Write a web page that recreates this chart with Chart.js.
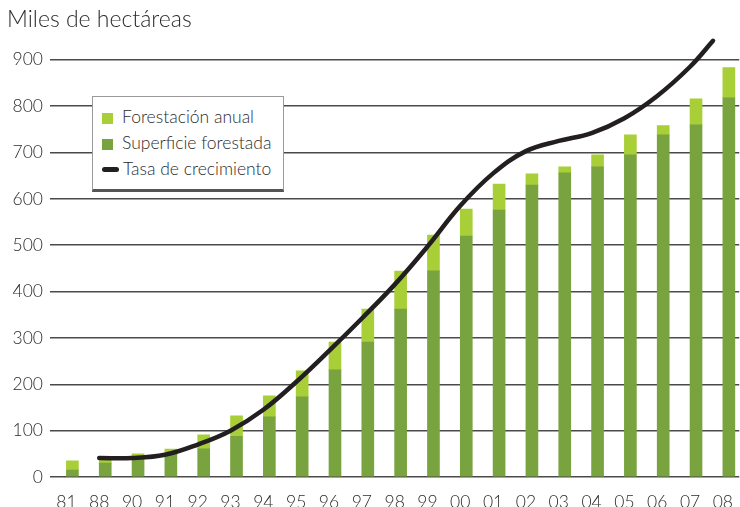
<!DOCTYPE html>
<html lang="es">
<head>
<meta charset="UTF-8">
<title>Superficie forestada</title>
<script src="https://cdn.jsdelivr.net/npm/chart.js@4.4.1/dist/chart.umd.min.js"></script>
<style>
  body { margin: 0; background: #fff; }
  #wrap { position: relative; width: 740px; height: 507px; }
  #leyenda {
    position: absolute; left: 92px; top: 96px; width: 192px; height: 96px;
    background: #fff; border: 1px solid #9a9a9a; border-bottom: 3px solid #555;
    font-family: Lato, sans-serif; font-size: 17.5px; font-weight: 300; color: #2b2b2b;
    box-sizing: border-box; padding-top: 8px;
  }
  #leyenda div { height: 26px; line-height: 24px; white-space: nowrap; }
  #leyenda span.sw { display: inline-block; width: 11px; height: 11px; margin: 0 9px 0 9px; vertical-align: -1px; }
  #leyenda span.ln { display: inline-block; width: 17px; height: 5px; border-radius: 3px; margin: 0 4px 0 9px; vertical-align: 3px; }
</style>
</head>
<body>
<div id="wrap">
  <canvas id="grafico" width="740" height="507"></canvas>
  <div id="leyenda"></div>
</div>
<script>
// años (eje x)
const anios = ['81','88','90','91','92','93','94','95','96','97','98','99','00','01','02','03','04','05','06','07','08'];
// superficie forestada acumulada, miles de ha
const superficie = [15, 30, 44, 50, 61, 88, 130, 173, 231, 291, 362, 445, 520, 576, 630, 656, 669, 695, 738, 760, 818];
// forestación del año
const anual = [20, 9, 6, 10, 30, 44, 45, 56, 60, 71, 82, 77, 58, 56, 24, 13, 26, 43, 20, 56, 65];
// curva de tendencia: posición (índice de año) y valor
const tasaPos = [1, 2, 3, 4, 5, 6, 7, 8, 9, 10, 11, 12, 13, 14, 15, 16, 17, 18, 19, 19.7];
const tasaVal = [41, 41, 48, 70, 100, 145, 205, 272, 342, 415, 497, 585, 655, 703, 725, 742, 774, 822, 885, 941];
const marcasY = [0, 100, 200, 300, 400, 500, 600, 700, 800, 900];

const verdeOscuro = '#78a33f';
const verdeClaro = '#a8cf38';
const negro = '#231f20';

const titulo = {
  id: 'titulo',
  afterDraw(chart) {
    const ctx = chart.ctx;
    ctx.save();
    ctx.font = '300 23px Lato, sans-serif';
    ctx.fillStyle = '#2b2b2b';
    ctx.textBaseline = 'alphabetic';
    ctx.fillText('Miles de hectáreas', 7, 27);
    ctx.restore();
  }
};

const chart = new Chart(document.getElementById('grafico'), {
  data: {
    labels: anios,
    datasets: [
      {
        type: 'line',
        label: 'Tasa de crecimiento',
        data: tasaPos.map((x, i) => ({ x: x, y: tasaVal[i] })),
        xAxisID: 'xl',
        borderColor: negro,
        borderWidth: 4.5,
        borderCapStyle: 'round',
        borderJoinStyle: 'round',
        tension: 0.4,
        pointRadius: 0,
        order: 0
      },
      {
        type: 'bar',
        label: 'Superficie forestada',
        data: superficie,
        backgroundColor: verdeOscuro,
        barThickness: 12,
        order: 1
      },
      {
        type: 'bar',
        label: 'Forestación anual',
        data: anual,
        backgroundColor: verdeClaro,
        barThickness: 12,
        order: 2
      }
    ]
  },
  options: {
    responsive: false,
    animation: false,
    layout: { padding: { top: 32, left: 0, right: 0, bottom: 0 } },
    plugins: { legend: { display: false }, tooltip: { enabled: false } },
    scales: {
      x: {
        stacked: true,
        grid: { display: false },
        border: { display: false },
        ticks: { color: '#2b2b2b', font: { family: 'Lato', size: 17.5, weight: 300 }, padding: 7, maxRotation: 0, autoSkip: false },
        afterFit(s) { s.height = 30; }
      },
      xl: {
        type: 'linear',
        display: false,
        min: -0.5,
        max: 20.5
      },
      y: {
        stacked: true,
        min: 0,
        max: 960,
        border: { display: false },
        grid: { color: '#4a4a4a', lineWidth: 1.5, drawTicks: false },
        ticks: { stepSize: 100, color: '#2b2b2b', font: { family: 'Lato', size: 17.5, weight: 300 }, padding: 7 },
        afterBuildTicks(s) { s.ticks = marcasY.map(v => ({ value: v })); },
        afterFit(s) { s.width = 50; }
      }
    }
  },
  plugins: [titulo]
});

// leyenda en orden: forestación, superficie, tasa
const leyenda = document.getElementById('leyenda');
[2, 1, 0].forEach(i => {
  const ds = chart.data.datasets[i];
  const fila = document.createElement('div');
  const marca = document.createElement('span');
  if (ds.type === 'line') {
    marca.className = 'ln';
    marca.style.background = ds.borderColor;
  } else {
    marca.className = 'sw';
    marca.style.background = ds.backgroundColor;
  }
  fila.appendChild(marca);
  fila.appendChild(document.createTextNode(ds.label));
  leyenda.appendChild(fila);
});
</script>
</body>
</html>
